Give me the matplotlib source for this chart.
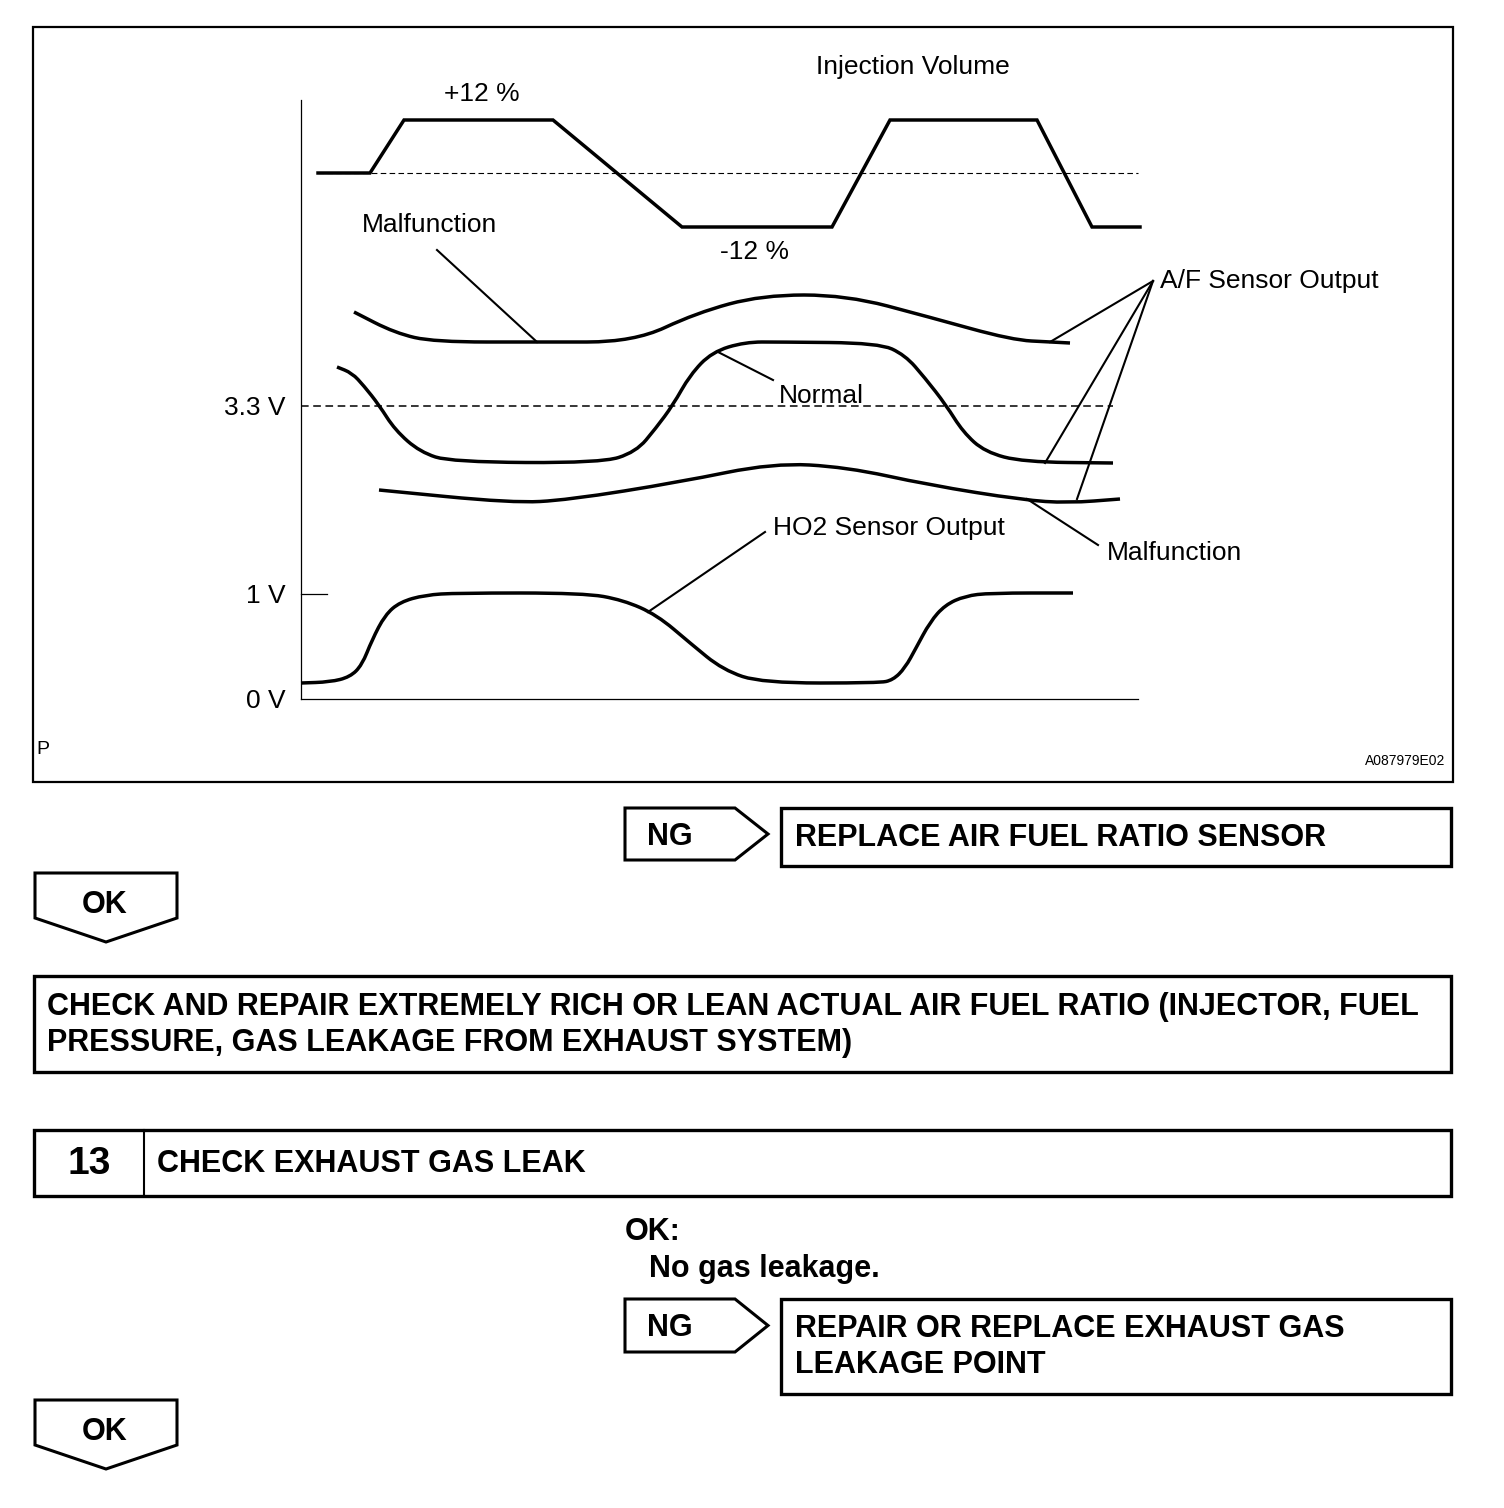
import matplotlib.pyplot as plt
from matplotlib.path import Path
from matplotlib.patches import PathPatch, Polygon, Rectangle

plt.rcParams['font.family'] = ['Liberation Sans', 'DejaVu Sans']

# --- waveform data (page pixels) ---
inj_x = [318, 370, 404, 553, 682, 832, 890, 1037, 1092, 1140]
inj_y = [173, 173, 120, 120, 227, 227, 120, 120, 227, 227]

af_bad_hi_x = [354, 395, 434, 540, 634, 696, 762, 846, 929, 1012, 1051, 1070]
af_bad_hi_y = [312, 333, 342, 342, 342, 313, 295, 295, 317, 340, 342, 343]

af_norm_x = [337, 352, 364, 379, 395, 420, 451, 601, 636, 656, 673, 690, 712, 745, 779, 879,
             905, 925, 946, 963, 985, 1023, 1113]
af_norm_y = [367, 373, 386, 405, 430, 452, 462, 463, 452, 428, 405, 375, 352, 342, 342, 343,
             355, 378, 405, 432, 452, 462, 463]

af_bad_lo_x = [379, 512, 568, 680, 773, 846, 929, 1023, 1068, 1120]
af_bad_lo_y = [490, 503, 500, 482, 463, 467, 485, 500, 503, 499]

ho2_x = [301, 330, 350, 362, 372, 385, 400, 425, 457, 584, 623, 657, 690, 723, 762, 879,
         893, 905, 916, 930, 945, 965, 990, 1073]
ho2_y = [683, 682, 677, 665, 640, 615, 602, 595, 593, 593, 600, 615, 643, 670, 683, 683,
         680, 668, 648, 622, 605, 596, 593, 593]

volt_labels = ['3.3 V', '1 V', '0 V']
volt_rows = [406, 594, 699]

# leader lines: (label end) -> (curve end)
leaders = [
    ((437, 250), (537, 342)),
    ((718, 352), (773, 380)),
    ((1153, 281), (1050, 342)),
    ((1153, 281), (1045, 463)),
    ((1153, 281), (1077, 499)),
    ((1027, 499), (1098, 545)),
    ((765, 532), (648, 612)),
]


def smooth(ax, xs, ys, lw=2.5):
    pts = list(zip(xs, ys))
    verts = [pts[0]]
    codes = [Path.MOVETO]
    mid = lambda a, b: ((a[0] + b[0]) / 2, (a[1] + b[1]) / 2)
    verts.append(mid(pts[0], pts[1]))
    codes.append(Path.LINETO)
    for i in range(1, len(pts) - 1):
        verts += [pts[i], mid(pts[i], pts[i + 1])]
        codes += [Path.CURVE3, Path.CURVE3]
    verts.append(pts[-1])
    codes.append(Path.LINETO)
    ax.add_patch(PathPatch(Path(verts, codes), fill=False, lw=lw,
                           ec='black', capstyle='butt', joinstyle='round'))


fig = plt.figure(figsize=(15.04, 15.08), dpi=100)
ax = fig.add_axes([0, 0, 1, 1])
ax.set_xlim(0, 1504)
ax.set_ylim(1508, 0)
ax.axis('off')

# outer frame of the figure panel
ax.add_patch(Rectangle((33, 27), 1420, 755, fill=False, lw=1.6, ec='black'))

# axes
ax.plot([301, 301], [100, 699], color='black', lw=0.9)
ax.plot([301, 1138], [699, 699], color='black', lw=0.9)
ax.plot([301, 327], [594, 594], color='black', lw=0.9)
ax.plot([318, 1138], [173, 173], color='black', lw=0.8, ls=(0, (5, 3)))
ax.plot([301, 1113], [406, 406], color='black', lw=1.1, ls=(0, (5, 3)))

for lab, row in zip(volt_labels, volt_rows):
    ax.text(286, row + 2, lab, ha='right', va='center', fontsize=19)

# curves
ax.plot(inj_x, inj_y, color='black', lw=2.5, solid_joinstyle='miter')
smooth(ax, af_bad_hi_x, af_bad_hi_y)
smooth(ax, af_norm_x, af_norm_y)
smooth(ax, af_bad_lo_x, af_bad_lo_y)
smooth(ax, ho2_x, ho2_y)

for (x0, y0), (x1, y1) in leaders:
    ax.plot([x0, x1], [y0, y1], color='black', lw=1.5)

ax.text(913, 67, 'Injection Volume', ha='center', va='center', fontsize=19)
ax.text(482, 94, '+12 %', ha='center', va='center', fontsize=19)
ax.text(754, 252, '-12 %', ha='center', va='center', fontsize=19)
ax.text(430, 225, 'Malfunction', ha='center', va='center', fontsize=19)
ax.text(779, 396, 'Normal', ha='left', va='center', fontsize=19)
ax.text(1160, 281, 'A/F Sensor Output', ha='left', va='center', fontsize=19)
ax.text(1107, 553, 'Malfunction', ha='left', va='center', fontsize=19)
ax.text(773, 528, 'HO2 Sensor Output', ha='left', va='center', fontsize=19)
ax.text(36, 750, 'P', ha='left', va='center', fontsize=14)
ax.text(1445, 761, 'A087979E02', ha='right', va='center', fontsize=10)

dy = 3  # bold caps sit a little lower than the bbox centre


# flow-chart part
def ng_tag(y0, y1):
    ym = (y0 + y1) / 2
    ax.add_patch(Polygon([(625, y0), (735, y0), (768, ym), (735, y1), (625, y1)],
                         closed=True, fill=False, lw=2.2, ec='black'))
    ax.text(670, ym + dy, 'NG', ha='center', va='center', fontsize=22, fontweight='bold')


def ok_tag(y0):
    ax.add_patch(Polygon([(35, y0), (177, y0), (177, y0 + 45), (106, y0 + 69), (35, y0 + 45)],
                         closed=True, fill=False, lw=2.2, ec='black'))
    ax.text(105, y0 + 29 + dy, 'OK', ha='center', va='center', fontsize=22, fontweight='bold')


def box(x0, y0, x1, y1):
    ax.add_patch(Rectangle((x0, y0), x1 - x0, y1 - y0, fill=False, lw=2.4, ec='black'))


def bold(x, y, s, size=22, ha='left'):
    ax.text(x, y + dy, s, ha=ha, va='center', fontsize=size, fontweight='bold')


ng_tag(808, 860)
box(781, 808, 1451, 866)
bold(795, 835, 'REPLACE AIR FUEL RATIO SENSOR')

ok_tag(873)

box(34, 976, 1451, 1072)
bold(47, 1004, 'CHECK AND REPAIR EXTREMELY RICH OR LEAN ACTUAL AIR FUEL RATIO (INJECTOR, FUEL')
bold(47, 1040, 'PRESSURE, GAS LEAKAGE FROM EXHAUST SYSTEM)')

box(34, 1130, 1451, 1196)
ax.plot([144, 144], [1130, 1196], color='black', lw=1.5)
bold(89, 1161, '13', size=28, ha='center')
bold(157, 1161, 'CHECK EXHAUST GAS LEAK')

bold(625, 1229, 'OK:')
bold(649, 1266, 'No gas leakage.')

ng_tag(1299, 1352)
box(781, 1299, 1451, 1394)
bold(795, 1326, 'REPAIR OR REPLACE EXHAUST GAS')
bold(795, 1362, 'LEAKAGE POINT')

ok_tag(1400)

fig.savefig('out.png', dpi=100)
